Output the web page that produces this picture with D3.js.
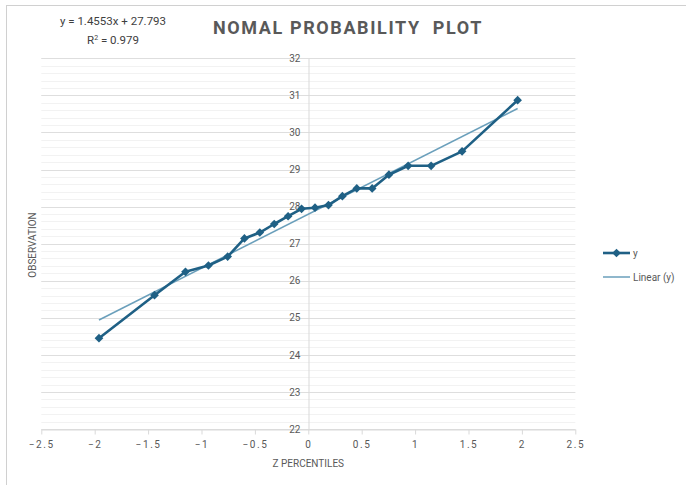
<!DOCTYPE html>
<html><head><meta charset="utf-8">
<script src="https://cdn.jsdelivr.net/npm/d3@7"></script>
<style>
html,body{margin:0;padding:0;background:#fff;}
text{font-family:Roboto, "Liberation Sans", sans-serif;}
</style></head>
<body>
<svg id="c" width="686" height="485"></svg>
<script>
// data
const zPercentiles = [-1.96,-1.44,-1.15,-0.935,-0.755,-0.598,-0.454,-0.319,-0.189,-0.063,
                       0.063,0.189,0.319,0.454,0.598,0.755,0.935,1.15,1.44,1.96];
const observations = [24.45,25.61,26.24,26.41,26.65,27.14,27.30,27.53,27.74,27.94,
                       27.97,28.04,28.28,28.49,28.49,28.86,29.10,29.10,29.49,30.87];
const trendSlope = 1.4553, trendIntercept = 27.793;
const xTicks = [-2.5,-2,-1.5,-1,-0.5,0,0.5,1,1.5,2,2.5];
const yTicks = [22,23,24,25,26,27,28,29,30,31,32];
const yMinorTicks = d3.range(22,32.001,0.2);

const svg = d3.select("#c");
// chart frame
svg.append("rect").attr("x",6.5).attr("y",5.5).attr("width",700).attr("height",500)
  .attr("fill","#fff").attr("stroke","#d0d0d0").attr("stroke-width",1);

const x = d3.scaleLinear().domain([-2.5,2.5]).range([41.3,575.3]);
const y = d3.scaleLinear().domain([22,32]).range([429,58.3]);

// minor gridlines
svg.append("g").selectAll("line").data(yMinorTicks).join("line")
  .attr("x1",x(-2.5)).attr("x2",x(2.5))
  .attr("y1",d=>Math.round(y(d))+0.5).attr("y2",d=>Math.round(y(d))+0.5)
  .attr("stroke","#f2f2f2").attr("stroke-width",1);
// major gridlines
svg.append("g").selectAll("line").data(yTicks).join("line")
  .attr("x1",x(-2.5)).attr("x2",x(2.5))
  .attr("y1",d=>Math.round(y(d))+0.5).attr("y2",d=>Math.round(y(d))+0.5)
  .attr("stroke","#dedede").attr("stroke-width",1);

// x axis at bottom
const xAxis = d3.axisBottom(x).tickValues(xTicks).tickSize(5).tickSizeOuter(0).tickPadding(6)
  .tickFormat(d=>d3.format("")(d));
const gx = svg.append("g").attr("transform",`translate(0,${Math.round(y(22))+0.5})`).call(xAxis);
gx.select(".domain").attr("stroke","#d9d9d9");
gx.selectAll(".tick line").attr("stroke","#d9d9d9");
gx.selectAll("text").attr("fill","#595959").attr("font-size","10px")
  .attr("letter-spacing","1.6px").attr("font-family","Roboto, sans-serif");

// y axis at x=0
const yAxis = d3.axisLeft(y).tickValues(yTicks).tickSize(0).tickPadding(8).tickFormat(d3.format("d"));
const gy = svg.append("g").attr("transform",`translate(${Math.round(x(0))+0.5},0)`).call(yAxis);
gy.select(".domain").attr("stroke","#d9d9d9");
gy.selectAll("text").attr("fill","#595959").attr("font-size","10px").attr("font-family","Roboto, sans-serif");

// trendline
const zExt = d3.extent(zPercentiles);
svg.append("line")
  .attr("x1",x(zExt[0])).attr("y1",y(trendSlope*zExt[0]+trendIntercept))
  .attr("x2",x(zExt[1])).attr("y2",y(trendSlope*zExt[1]+trendIntercept))
  .attr("stroke","#6a9fbb").attr("stroke-width",1.5);

// series line
const pts = zPercentiles.map((z,i)=>[z,observations[i]]);
const line = d3.line().x(d=>x(d[0])).y(d=>y(d[1]));
const seriesColor = "#1f6085";
svg.append("path").datum(pts).attr("d",line).attr("fill","none")
  .attr("stroke",seriesColor).attr("stroke-width",2.6).attr("stroke-linejoin","round");
const diamond = d3.symbol().type(d3.symbolDiamond2).size(48);
svg.append("g").selectAll("path").data(pts).join("path")
  .attr("transform",d=>`translate(${x(d[0])},${y(d[1])})`)
  .attr("d",diamond).attr("fill",seriesColor);

// title
svg.append("text").attr("x",348).attr("y",34).attr("text-anchor","middle")
  .attr("font-size","18px").attr("font-weight","bold").attr("fill","#595959")
  .attr("letter-spacing","1.6px").style("white-space","pre")
  .text("NOMAL PROBABILITY  PLOT");

// equation
svg.append("text").attr("x",113).attr("y",25).attr("text-anchor","middle")
  .attr("font-size","11.5px").attr("fill","#404040").attr("letter-spacing","0px")
  .text(`y = ${trendSlope}x + ${trendIntercept}`);
const r2 = svg.append("text").attr("x",113).attr("y",44).attr("text-anchor","middle")
  .attr("font-size","11.5px").attr("fill","#404040");
r2.append("tspan").text("R");
r2.append("tspan").attr("dy","-4").attr("font-size","7px").text("2");
r2.append("tspan").attr("dy","4").text(" = 0.979");

// axis titles
svg.append("text").attr("x",x(0)).attr("y",467).attr("text-anchor","middle")
  .attr("font-size","10px").attr("fill","#595959").text("Z PERCENTILES");
svg.append("text").attr("transform",`translate(36,245) rotate(-90)`).attr("text-anchor","middle")
  .attr("font-size","10px").attr("fill","#595959").text("OBSERVATION");

// legend
const lg = svg.append("g");
lg.append("line").attr("x1",603).attr("x2",630).attr("y1",253).attr("y2",253)
  .attr("stroke",seriesColor).attr("stroke-width",2.6);
lg.append("path").attr("transform","translate(616.5,253)").attr("d",diamond).attr("fill",seriesColor);
lg.append("text").attr("x",633).attr("y",257).attr("font-size","10px").attr("fill","#595959").text("y");
lg.append("line").attr("x1",603).attr("x2",630).attr("y1",277).attr("y2",277)
  .attr("stroke","#6a9fbb").attr("stroke-width",1.5);
lg.append("text").attr("x",633).attr("y",281).attr("font-size","10px").attr("fill","#595959").text("Linear (y)");
</script>
</body></html>
